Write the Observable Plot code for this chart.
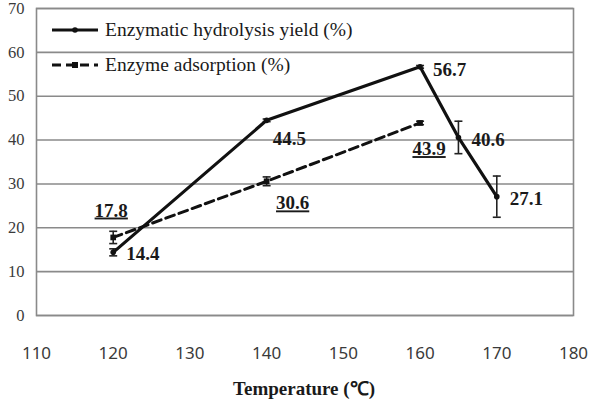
<!DOCTYPE html>
<html>
<head>
<meta charset="utf-8">
<script src="https://cdn.jsdelivr.net/npm/d3@7"></script>
<script src="https://cdn.jsdelivr.net/npm/@observablehq/plot@0.6"></script>
<style>
  html, body { margin: 0; background: #fff; }
  #wrap { position: relative; width: 590px; }
  #chart svg { display: block; }
  #legend { position: absolute; left: 50px; top: 12px; font-family: "Liberation Serif", "Times New Roman", serif; font-size: 19.5px; color: #1a1a1a; }
  #legend .row { display: flex; align-items: center; height: 35px; }
  #legend svg { margin-right: 5px; }
  #xtitle { width: 590px; height: 22px; line-height: 22px; margin-top: 8px; text-align: center; font-family: "Liberation Serif", "Times New Roman", serif; font-weight: bold; font-size: 19px; color: #1a1a1a; padding-left: 18px; box-sizing: border-box; }
</style>
</head>
<body>
<div id="wrap">
  <div id="chart"></div>
  <div id="legend"></div>
  <div id="xtitle">Temperature (℃)</div>
</div>
<script>
// Enzymatic hydrolysis yield vs. pretreatment temperature
const hydroTemp  = [120, 140, 160, 165, 170];
const hydroYield = [14.4, 44.5, 56.7, 40.6, 27.1];
const hydroErr   = [0.8, 0.3, 0.3, 3.7, 4.7];

// Enzyme adsorption vs. pretreatment temperature
const adsTemp  = [120, 140, 160];
const adsValue = [17.8, 30.6, 43.9];
const adsErr   = [1.4, 1.0, 0.4];

const xTicks = [110, 120, 130, 140, 150, 160, 170, 180];
const yTicks = [0, 10, 20, 30, 40, 50, 60, 70];

const seriesNames = ["Enzymatic hydrolysis yield (%)", "Enzyme adsorption (%)"];

const hydro = hydroTemp.map((t, i) => ({t, v: hydroYield[i], e: hydroErr[i]}));
const ads = adsTemp.map((t, i) => ({t, v: adsValue[i], e: adsErr[i]}));

// horizontal cap used for error bar ends
const cap = {draw(ctx, size) { const w = Math.sqrt(size) / 2; ctx.moveTo(-w, 0); ctx.lineTo(w, 0); }};

// label placement around each point
const hydroLabelPos = [
  {dx: 13, dy: 2, anchor: "start"},
  {dx: 6, dy: 19, anchor: "start"},
  {dx: 13, dy: 3, anchor: "start"},
  {dx: 13, dy: 2, anchor: "start"},
  {dx: 13, dy: 2, anchor: "start"}
];
const adsLabelPos = [
  {dx: -2, dy: -27, anchor: "middle"},
  {dx: 26, dy: 22, anchor: "middle"},
  {dx: 9, dy: 26, anchor: "middle"}
];

const labelFont = {fontFamily: "Liberation Serif", fontWeight: "bold", fontSize: 19, fill: "#1a1a1a"};

const errorBars = data => [
  Plot.ruleX(data, {x: "t", y1: d => d.v - d.e, y2: d => d.v + d.e, stroke: "#222", strokeWidth: 1.6}),
  Plot.dot(data, {x: "t", y: d => d.v - d.e, symbol: cap, r: 4.5, stroke: "#222", strokeWidth: 1.6}),
  Plot.dot(data, {x: "t", y: d => d.v + d.e, symbol: cap, r: 4.5, stroke: "#222", strokeWidth: 1.6})
];

// axes: sans tick labels below, serif tick labels at left
const axes = Plot.axisY ? [
  Plot.axisX({ticks: xTicks, tickSize: 0, tickPadding: 31, label: null, tickFormat: d => d,
    fontFamily: "Noto Sans", fontSize: 17, fill: "#3a3a3a"}),
  Plot.axisY({ticks: yTicks, tickSize: 0, tickPadding: 12, label: null,
    fontFamily: "Liberation Serif", fontSize: 16.5, fill: "#3a3a3a"})
] : [];

const plot = Plot.plot({
  width: 590,
  height: 370,
  marginTop: 8,
  marginLeft: 36,
  marginRight: 17,
  marginBottom: 55,
  x: {domain: [110, 180], ticks: xTicks, tickSize: 0, tickPadding: 31, label: null, tickFormat: d => d},
  y: {domain: [0, 70], ticks: yTicks, tickSize: 0, tickPadding: 12, label: null},
  style: {fontFamily: "Noto Sans", fontSize: "17px", color: "#3a3a3a", overflow: "visible"},
  marks: [
    ...axes,
    Plot.ruleY(yTicks, {stroke: "#8a8a8a", strokeWidth: 1.6}),
    Plot.frame({stroke: "#8a8a8a", strokeWidth: 1.6}),
    ...errorBars(ads),
    ...errorBars(hydro),
    // series lines
    Plot.line(ads, {x: "t", y: "v", stroke: "#111", strokeWidth: 3, strokeDasharray: "9,5"}),
    Plot.dot(ads, {x: "t", y: "v", symbol: "square", r: 3.2, fill: "#111"}),
    Plot.line(hydro, {x: "t", y: "v", stroke: "#111", strokeWidth: 3.2}),
    Plot.dot(hydro, {x: "t", y: "v", r: 2.8, fill: "#111"}),
    // value labels
    ...hydro.map((d, i) => Plot.text([d], {x: "t", y: "v", text: p => p.v.toFixed(1),
      dx: hydroLabelPos[i].dx, dy: hydroLabelPos[i].dy, textAnchor: hydroLabelPos[i].anchor, ...labelFont})),
    ...ads.map((d, i) => Plot.text([d], {x: "t", y: "v", text: p => p.v.toFixed(1),
      dx: adsLabelPos[i].dx, dy: adsLabelPos[i].dy, textAnchor: adsLabelPos[i].anchor, ...labelFont,
      ariaDescription: "adsorption value"}))
  ]
});

// adsorption values are underlined
d3.select(plot).selectAll('g[aria-description="adsorption value"] text')
  .style("text-decoration", "underline");

document.getElementById("chart").appendChild(plot);

// legend drawn inside the plot area
const legend = d3.select("#legend");
const swatches = [
  {dash: null, symbol: "circle"},
  {dash: "9,5", symbol: "square"}
];
seriesNames.forEach((name, i) => {
  const row = legend.append("div").attr("class", "row");
  const s = row.append("svg").attr("width", 50).attr("height", 12);
  s.append("line").attr("x1", 2).attr("x2", 48).attr("y1", 6).attr("y2", 6)
    .attr("stroke", "#111").attr("stroke-width", 3.2)
    .attr("stroke-dasharray", swatches[i].dash);
  if (swatches[i].symbol === "circle") s.append("circle").attr("cx", 25).attr("cy", 6).attr("r", 2.8).attr("fill", "#111");
  else s.append("rect").attr("x", 22).attr("y", 3).attr("width", 6).attr("height", 6).attr("fill", "#111");
  row.append("span").text(name);
});
</script>
</body>
</html>
